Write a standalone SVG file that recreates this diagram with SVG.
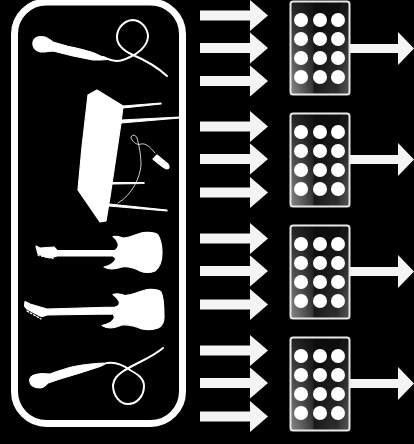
<svg xmlns="http://www.w3.org/2000/svg" width="414" height="444" viewBox="0 0 414 444">
<defs>
<filter id="soft" x="-5%" y="-5%" width="110%" height="110%"><feGaussianBlur stdDeviation="0.5"/></filter>
<linearGradient id="bandA" x1="0" y1="0" x2="1" y2="0"><stop offset="0" stop-color="#8a8a8a"/><stop offset="0.38" stop-color="#3a3a3a"/><stop offset="0.4" stop-color="#1a1a1a"/><stop offset="0.74" stop-color="#303030"/><stop offset="0.76" stop-color="#2a2a2a"/><stop offset="1" stop-color="#5a5a5a"/></linearGradient>
<linearGradient id="shade" x1="0" y1="0" x2="0" y2="1"><stop offset="0" stop-color="#000" stop-opacity="0.75"/><stop offset="1" stop-color="#000" stop-opacity="0"/></linearGradient>
<path id="in" d="M200 -5H250V-15.500L268 0L250 15.500V5H200Z" fill="#f4f4f4"/>
<path id="out" d="M350 -4.500H398V-16.500L414 0L398 16.500V4.500H350Z" fill="#f4f4f4"/>
<g id="mixer">
<rect x="290.500" y="1.500" width="59" height="93" rx="2.500" fill="url(#bandA)"/>
<rect x="290.500" y="1.500" width="59" height="93" rx="2.500" fill="url(#shade)" stroke="#e8e8e8" stroke-width="2"/>
<g fill="#fff"><circle cx="301" cy="20" r="7"/><circle cx="320" cy="20" r="7"/><circle cx="338" cy="20" r="7"/><circle cx="301" cy="39" r="7"/><circle cx="320" cy="39" r="7"/><circle cx="338" cy="39" r="7"/><circle cx="301" cy="58" r="7"/><circle cx="320" cy="58" r="7"/><circle cx="338" cy="58" r="7"/><circle cx="301" cy="77" r="7"/><circle cx="320" cy="77" r="7"/><circle cx="338" cy="77" r="7"/></g>
</g>
</defs>
<style>.w{fill:#fff;stroke:#fff;stroke-width:1.200;stroke-linejoin:round}.c{fill:none;stroke:#fff;stroke-linecap:round}.s{filter:url(#soft)}</style>
<rect width="414" height="444" fill="#000"/>
<g id="connectors" class="s">
<use href="#in" y="15.500"/><use href="#in" y="48"/><use href="#in" y="81"/><use href="#out" y="48.500"/>
<use href="#in" y="126.500"/><use href="#in" y="159"/><use href="#in" y="192.500"/><use href="#out" y="159.500"/>
<use href="#in" y="238.500"/><use href="#in" y="271"/><use href="#in" y="304.500"/><use href="#out" y="271.500"/>
<use href="#in" y="350.500"/><use href="#in" y="383"/><use href="#in" y="416.500"/><use href="#out" y="383.500"/>
</g>
<g id="frame" class="s"><rect x="14.500" y="2" width="168" height="421.500" rx="32" fill="none" stroke="#fff" stroke-width="7"/></g>
<g id="mic-top" class="s">
<path class="w" d="M33 42C34 38 38 36 45 37C48 38 50 40 53 42L67 46C75 48 85 50 94 53L108 59.500C102 60 97 60 93 60L73 56L53 51C49 51 47 52 43 52C37 52 32 48 33 42Z"/>
<path class="c" stroke-width="2" d="M103 57C108 59 112 61 117 61C122 61 126 59 130 57C137 54 147 47 148 37C148 28 141 20 132 20C124 21 117 28 117 37C117 45 124 51 133 55C145 60 156 66 167 76"/>
</g>
<g id="keyboard" class="s">
<path class="w" d="M88 95L97 90L123 106L121 123L110 197L106 221L100 222L78 190L82 147Z"/>
<path class="w" d="M123 106L161 103V104L123 108Z"/>
<path class="w" d="M121 120L180 117V118L121 123Z"/>
<path class="w" d="M112 182.500L144 182.500V183.500L112 184Z"/>
<path class="w" d="M109 204L167 210V211L109 206Z"/>
<path class="c" stroke-width="0.800" d="M155 153C150 147 146 143 141 144C136 146 131 140 131 137C132 134 136 135 137 138C139 145 141 155 141 165C140 178 132 195 118 203"/>
<path class="w" d="M153 159L157 155L168 164C170 167 169 169 167 169C165 169 160 165 153 159Z"/>
</g>
<g id="guitar-top" class="s">
<path class="w" d="M36 246L40 248L54 247L57 250.500L115 250.500C118 248 119 246 118 243C117 240 115 238 113 236.500C117 235.500 120 237 123 238C130 238 136 234 143 232.500C149 232 155 232 158 235C161 240 162 248 162 253C162 261 159 268 155 271C150 273 145 273 140 271C134 268 128 266 122 267C116 269 109 270 104 267C110 266 115 262 116 258.500L113 256H57C52 258 47 258 43 256L38 254Z"/>
<path class="c" stroke-width="1" stroke-dasharray="1.500 2" d="M38 255.500L55 259"/>
</g>
<g id="guitar-bottom" class="s">
<path class="w" d="M25 301.500L30 304L47 309L115 307C119 306 120 304 119 301C117 298 115 296 113 294.500C117 293 121 294 125 295.500C133 295 140 291 147 289.500C153 289 158 289 161 292C164 298 164 308 164 317C164 322 162 326 158 328C153 330 147 330 142 329C135 326 129 324 122 325C115 328 107 329 102 325.500C108 324 114 321 114.500 317L113 314L47 315C44 316 42 317 40 316L27 309L24.500 306Z"/>
<path class="c" stroke-width="1.300" stroke-dasharray="1.800 2" d="M27 311L41 319"/>
</g>
<g id="mic-bottom" class="s">
<path class="w" d="M29.500 380C30 376 33 374 42 373.500L50 374C58 371 66 368 74 366.500C84 364.500 96 363 107 363L100 366.500L80 373L60 379L48 383C45 386 43 388 40 388C34 388 30 386 29.500 380Z"/>
<path class="c" stroke-width="2" d="M107 363C113 362 122 364 130 370C137 374 144 378 144 386C144 396 137 404 128 404C120 404 113 396 113 385C114 378 118 375 122 372C128 368 134 365 140 362C148 358 156 354 163 348"/>
</g>
<g id="mixer-1" class="s"><use href="#mixer"/></g>
<g id="mixer-2" class="s"><use href="#mixer" y="112"/></g>
<g id="mixer-3" class="s"><use href="#mixer" y="224"/></g>
<g id="mixer-4" class="s"><use href="#mixer" y="336"/></g>
</svg>
